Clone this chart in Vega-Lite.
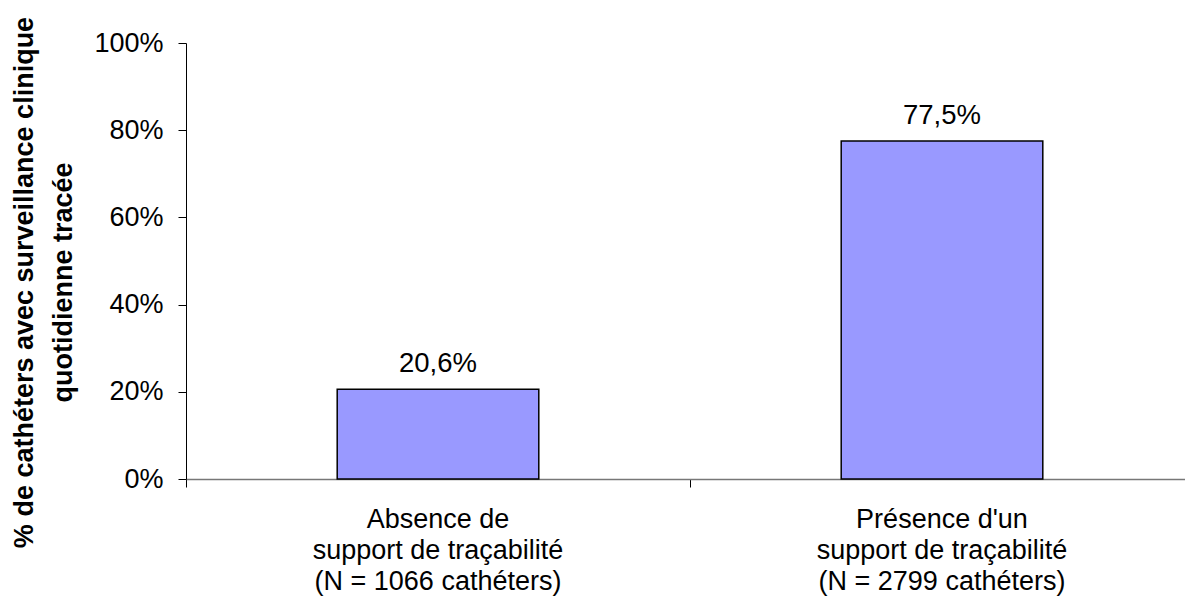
{
  "$schema": "https://vega.github.io/schema/vega-lite/v6.json",
  "autosize": "none",
  "width": 1008,
  "height": 436,
  "padding": {"left": 186, "top": 43, "right": 0, "bottom": 124},
  "background": "white",
  "config": {
    "view": {"stroke": null},
    "font": "Liberation Sans"
  },
  "data": {
    "values": [
      {"categorie": "Absence de|support de traçabilité| (N = 1066 cathéters)", "pourcentage": 0.206, "etiquette": "20,6%"},
      {"categorie": "Présence d'un|support de traçabilité| (N = 2799 cathéters)", "pourcentage": 0.775, "etiquette": "77,5%"}
    ]
  },
  "encoding": {
    "x": {
      "field": "categorie",
      "type": "nominal",
      "sort": null,
      "scale": {"paddingInner": 0, "paddingOuter": 0},
      "axis": {
        "title": null,
        "labelAngle": 0,
        "labelExpr": "split(datum.label, '|')",
        "labelFont": "Liberation Sans",
        "labelFontSize": 27,
        "labelColor": "black",
        "labelLineHeight": 31,
        "labelPadding": 19,
        "labelBaseline": "top",
        "bandPosition": 0,
        "tickSize": 8,
        "tickColor": "black",
        "domainColor": "#777777",
        "domainWidth": 1.5,
        "labelLimit": 0
      }
    },
    "y": {
      "field": "pourcentage",
      "type": "quantitative",
      "scale": {"domain": [0, 1], "nice": false},
      "axis": {
        "title": ["% de cathéters avec surveillance clinique", "quotidienne tracée"],
        "titleFont": "Liberation Sans",
        "titleFontSize": 27,
        "titleFontWeight": "bold",
        "titleColor": "black",
        "titleLineHeight": 39,
        "titleAngle": -90,
        "titleAlign": "center",
        "titleBaseline": "middle",
        "titleX": -162,
        "titleY": 239,
        "values": [0, 0.2, 0.4, 0.6, 0.8, 1],
        "format": ".0%",
        "labelFont": "Liberation Sans",
        "labelFontSize": 27,
        "labelColor": "black",
        "labelPadding": 15,
        "tickSize": 8,
        "tickColor": "black",
        "domainColor": "black",
        "grid": false
      }
    }
  },
  "layer": [
    {
      "mark": {"type": "bar", "width": {"band": 0.4}, "fill": "#9999FF", "stroke": "black", "strokeWidth": 1.5}
    },
    {
      "mark": {"type": "text", "baseline": "alphabetic", "dy": -17, "fontSize": 27.5, "font": "Liberation Sans", "color": "black"},
      "encoding": {"text": {"field": "etiquette"}}
    }
  ]
}
